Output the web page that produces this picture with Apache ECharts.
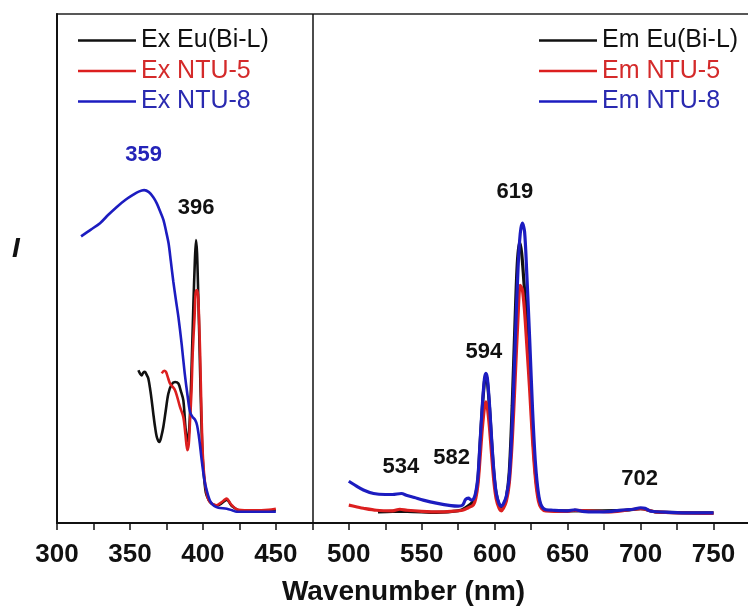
<!DOCTYPE html>
<html>
<head>
<meta charset="utf-8">
<script src="https://cdn.jsdelivr.net/npm/echarts@6/dist/echarts.min.js"></script>
<style>
  html, body { margin: 0; padding: 0; background: #fff; }
  #main { width: 748px; height: 608px; }
</style>
</head>
<body>
<div id="main"></div>
<script>
// excitation spectra: [wavelength nm, intensity a.u.]
var exEu = [
  [355.8, 30.0], [357, 29.3], [358, 29.0], [359, 29.5], [360.3, 29.7], [361.5, 29.1],
  [362.6, 28.4], [364, 26], [364.9, 24.1], [366, 21.5], [367.2, 18.9], [368.5, 16.8],
  [370.2, 15.9], [371.5, 17], [372.9, 18.9], [374.5, 22], [376.3, 25.4], [378.5, 27.2],
  [380.9, 27.7], [383.2, 27.4], [384.8, 26], [386.6, 24.1], [388, 19], [389.3, 16],
  [390.5, 18], [391.5, 24], [392.5, 33], [393.5, 43], [394.5, 51.5], [395.3, 55.6],
  [396, 53], [396.8, 45], [397.5, 37], [398.5, 25], [399.5, 15], [400.5, 10], [402, 6],
  [404, 4.5], [406, 3.8], [409.5, 3.4], [413, 3.9], [416.4, 4.6], [418, 4.1], [420, 3.3],
  [425, 2.5], [450, 2.5]
];
var exNtu5 = [
  [371.8, 29.4], [373.5, 29.9], [374.7, 29.7], [376, 28.6], [377.5, 27.4], [380.9, 26.1],
  [384.3, 22.8], [386.6, 20.8], [388, 17.5], [389.3, 14.3], [390.3, 15.5], [391.2, 20.2],
  [392.2, 26], [393, 33.3], [394.2, 40], [395.3, 45.7], [396.2, 45.7], [396.9, 43.7],
  [397.5, 39], [398.1, 33.3], [399, 22], [399.9, 13.6], [401, 9], [402.6, 5.8], [404, 4.5],
  [406.1, 3.8], [409.5, 3.5], [412.9, 4.1], [415, 4.6], [416.4, 4.8], [418, 4.2],
  [419.8, 3.5], [424.3, 2.6], [435, 2.5], [445, 2.6], [450, 2.8]
];
var exNtu8 = [
  [316.5, 56.3], [323, 57.6], [329.5, 58.9], [335, 60.5], [341, 62.1], [347, 63.5],
  [352.3, 64.5], [356, 65.1], [359.7, 65.4], [363, 65.0], [366, 64.0], [368.4, 62.8],
  [371, 61], [373, 59.5], [375, 57], [376.5, 54.9], [378, 51.5], [379.7, 47.5],
  [381.5, 43.8], [383.2, 40.5], [385.5, 35], [387.5, 29.5], [389.5, 25], [391.2, 21.8],
  [393, 20.8], [394.6, 20.3], [396, 19.2], [397.5, 16.5], [399.2, 12.3], [401, 8.5],
  [402.6, 6.4], [404.5, 4.6], [406.1, 3.8], [408, 3.3], [410.6, 3.0], [416.4, 2.8],
  [420, 2.5], [423.2, 2.2], [435, 2.2], [450, 2.2]
];

// emission spectra
var emEu = [
  [520, 2.2], [530, 2.3], [540, 2.3], [560, 2.1], [575, 2.4], [580, 3], [585.5, 4.3],
  [587, 5.6], [588.5, 8.5], [590, 15.5], [591.5, 22.5], [593, 27.8], [594, 29], [595, 27.8],
  [596.5, 22.5], [598, 15.5], [599.5, 9.5], [601, 5.8], [603, 3.6], [604.5, 3.1], [606, 3.5],
  [608, 5], [610, 10], [612, 23], [614, 40], [615.5, 51], [617, 55.2], [618.5, 53],
  [620, 47.5], [622, 40], [624, 30], [626, 18], [628, 9.5], [630, 5], [632, 3.2], [635, 2.5],
  [650, 2.4], [690, 2.5], [700, 2.8], [710, 2.2], [750, 2.0]
];
var emNtu5 = [
  [500, 3.5], [505, 3.2], [510, 2.9], [519, 2.5], [530, 2.4], [535, 2.7], [540, 2.5],
  [550, 2.3], [562, 2.2], [570, 2.3], [578, 2.5], [582, 3.0], [585.5, 3.6], [587, 4.8],
  [588.5, 7.5], [590, 12.8], [591.5, 18.5], [593, 22.7], [594, 23.8], [595, 22.7], [596.5, 18.5],
  [598, 13], [599.5, 8], [601, 4.8], [603, 2.9], [604.5, 2.4], [606, 2.9], [608, 4.3],
  [610, 7.8], [612, 16], [614, 28], [616, 40.5], [617.5, 46.7], [619, 45.8], [620.5, 41.5],
  [622, 35], [624, 26], [626, 16], [628, 8.5], [630, 4.3], [632, 2.9], [635, 2.4], [650, 2.3],
  [655, 2.5], [680, 2.2], [700, 2.8], [710, 2.2], [750, 1.9]
];
var emNtu8 = [
  [500, 8.2], [505, 7.3], [510, 6.5], [517, 5.8], [525, 5.6], [530, 5.6], [536, 5.8],
  [540, 5.4], [545, 5.0], [551, 4.5], [560, 3.9], [570, 3.4], [575, 3.3], [578, 3.5],
  [580, 4.6], [582, 4.9], [584, 4.5], [585.5, 4.7], [587, 6], [588.5, 9], [590, 16],
  [591.5, 23], [593, 28.4], [594, 29.4], [595, 28.4], [596.5, 23], [598, 16], [599.5, 10],
  [601, 6], [603, 3.8], [604.5, 3.3], [606, 3.8], [608, 5.3], [610, 9], [612, 19.5],
  [614, 35], [616, 50], [617.5, 56.8], [619, 58.9], [620.5, 57.2], [622, 49], [624, 36],
  [626, 22], [628, 11.5], [630, 5.8], [632, 3.4], [635, 2.6], [640, 2.5], [650, 2.4],
  [655, 2.6], [660, 2.3], [670, 2.2], [680, 2.3], [690, 2.6], [695, 2.7], [700, 3.0],
  [703, 2.9], [707, 2.3], [720, 2.1], [735, 2.0], [750, 2.0]
];

// peak annotations: [x, y, text, color]
var peakLabels = [
  [359.3, 72.3, '359', '#2424b8'],
  [395.3, 61.9, '396', '#111'],
  [613.8, 65.1, '619', '#111'],
  [592.6, 33.6, '594', '#111'],
  [535.7, 11.1, '534', '#111'],
  [570.5, 12.7, '582', '#111'],
  [699.4, 8.7, '702', '#111']
];
var divider = 475;

var BLACK = '#111111', RED = '#dc1f1f', BLUE = '#1c1cc0';
var FONT = '"Liberation Sans", Arial, sans-serif';

var chartDom = document.getElementById('main');
var myChart = echarts.init(chartDom);

function lineSeries(name, data, color, width) {
  return {
    name: name,
    type: 'line',
    data: data,
    smooth: 0.3,
    showSymbol: false,
    lineStyle: { color: color, width: width },
    itemStyle: { color: color },
    animation: false
  };
}

var series = [
  lineSeries('Ex Eu(Bi-L)', exEu, BLACK, 2.6),
  lineSeries('Em Eu(Bi-L)', emEu, BLACK, 3.2),
  lineSeries('Ex NTU-5', exNtu5, RED, 2.6),
  lineSeries('Em NTU-5', emNtu5, RED, 3.2),
  lineSeries('Ex NTU-8', exNtu8, BLUE, 2.6),
  lineSeries('Em NTU-8', emNtu8, BLUE, 3.2)
];
series[5].markLine = {
  silent: true,
  symbol: 'none',
  label: { show: false },
  lineStyle: { color: '#111', width: 1.5, type: 'solid' },
  data: [{ xAxis: divider }],
  animation: false
};
series[5].markPoint = {
  silent: true,
  symbol: 'circle',
  symbolSize: 0,
  data: peakLabels.map(function (p) {
    return {
      coord: [p[0], p[1]],
      name: p[2],
      label: {
        show: true, position: 'inside', formatter: '{b}',
        color: p[3], fontSize: 22, fontWeight: 'bold', fontFamily: FONT
      }
    };
  }),
  animation: false
};

function legendItem(name, color) {
  return { name: name, textStyle: { color: color } };
}
var legendBase = {
  orient: 'vertical',
  icon: 'rect',
  padding: 0,
  itemWidth: 58,
  itemHeight: 2.5,
  itemGap: 5.5,
  textStyle: { fontSize: 25, fontFamily: FONT, lineHeight: 25 }
};

var option = {
  backgroundColor: '#fff',
  animation: false,
  grid: {
    left: 57, right: -2, top: 14, bottom: 85,
    outerBoundsMode: 'none',
    show: true, borderColor: '#222', borderWidth: 1.5
  },
  legend: [
    Object.assign({}, legendBase, {
      left: 78, top: 28,
      data: [legendItem('Ex Eu(Bi-L)', BLACK), legendItem('Ex NTU-5', '#d42a2a'), legendItem('Ex NTU-8', '#2a2ab0')]
    }),
    Object.assign({}, legendBase, {
      left: 539, top: 28,
      data: [legendItem('Em Eu(Bi-L)', BLACK), legendItem('Em NTU-5', '#d42a2a'), legendItem('Em NTU-8', '#2a2ab0')]
    })
  ],
  xAxis: {
    type: 'value',
    min: 300,
    max: 775,
    interval: 25,
    splitLine: { show: false },
    axisLine: { lineStyle: { color: '#111', width: 2 } },
    axisTick: { length: 7, lineStyle: { color: '#111', width: 1.5 } },
    axisLabel: {
      margin: 19,
      color: '#111',
      fontSize: 26,
      fontWeight: 'bold',
      fontFamily: FONT,
      formatter: function (v) { return (v % 50 === 0 && v <= 750) ? String(v) : ''; }
    },
    name: 'Wavenumber (nm)',
    nameLocation: 'middle',
    nameGap: 55,
    nameTextStyle: { color: '#111', fontSize: 28, fontWeight: 'bold', fontFamily: FONT }
  },
  yAxis: {
    type: 'value',
    min: 0,
    max: 100,
    splitLine: { show: false },
    axisLabel: { show: false },
    axisTick: { show: false },
    axisLine: { show: true, lineStyle: { color: '#111', width: 2 } }
  },
  graphic: [{
    type: 'text',
    left: 12,
    top: 235,
    style: {
      text: 'I',
      fontSize: 28,
      fontWeight: 'bold',
      fontStyle: 'italic',
      fontFamily: FONT,
      fill: '#111'
    }
  }],
  series: series
};

myChart.setOption(option);
</script>
</body>
</html>
